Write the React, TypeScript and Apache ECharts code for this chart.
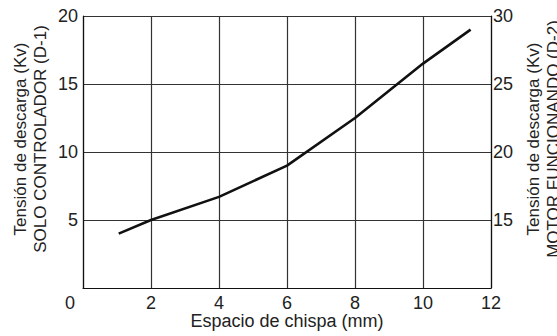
import React, { useEffect, useRef } from "react";
import * as echarts from "echarts";

const gapMm = [1.05, 2, 4, 6, 8, 10, 11.4];
const voltageKv = [4.0, 5.0, 6.7, 9.0, 12.5, 16.5, 19.0];
const xTicks = [0, 2, 4, 6, 8, 10, 12];
const leftTicks = [0, 5, 10, 15, 20];
const rightTicks = [10, 15, 20, 25, 30];
const xName = "Espacio de chispa (mm)";
const leftName = "Tensión de descarga (Kv)\nSOLO CONTROLADOR (D-1)";
const rightName = "Tensión de descarga (Kv)\nMOTOR FUNCIONANDO (D-2)";

const FONT = "Liberation Sans, Arial, sans-serif";
const TXT = "#222";

export default function App() {
  const ref = useRef<HTMLDivElement>(null);
  useEffect(() => {
    if (!ref.current) return;
    const chart = echarts.init(ref.current, undefined, {
      renderer: "svg",
      width: 557,
      height: 336,
    });
    chart.setOption({
      animation: false,
      backgroundColor: "#fff",
      grid: { left: 83, right: 66, top: 16, bottom: 48, containLabel: false, outerBoundsMode: "none" },
      xAxis: {
        type: "value",
        min: xTicks[0],
        max: xTicks[xTicks.length - 1],
        interval: xTicks[1] - xTicks[0],
        name: xName,
        nameLocation: "middle",
        nameGap: 24,
        nameMoveOverlap: false,
        nameTextStyle: { fontFamily: FONT, fontSize: 18, color: TXT },
        axisLine: { show: true, lineStyle: { color: "#111", width: 1.2 } },
        axisTick: { show: false },
        splitLine: { show: true, lineStyle: { color: "#333", width: 1.2 } },
        axisLabel: {
          margin: 6,
          fontFamily: FONT,
          fontSize: 18,
          color: TXT,
          formatter: (v: number) => (v === 0 ? "{z|0}" : String(v)),
          rich: { z: { fontFamily: FONT, fontSize: 18, color: TXT, padding: [0, 26, 0, 0] } },
        },
      },
      yAxis: [
        {
          type: "value",
          position: "left",
          min: leftTicks[0],
          max: leftTicks[leftTicks.length - 1],
          interval: leftTicks[1] - leftTicks[0],
          name: leftName,
          nameLocation: "middle",
          nameRotate: 90,
          nameGap: 33,
          nameMoveOverlap: false,
          nameTextStyle: {
            fontFamily: FONT,
            fontSize: 17,
            lineHeight: 20,
            color: TXT,
            align: "center",
            padding: [0, 0, 0, 26],
          },
          axisLine: { show: true, lineStyle: { color: "#111", width: 1.2 } },
          axisTick: { show: false },
          splitLine: { show: true, lineStyle: { color: "#333", width: 1.2 } },
          axisLabel: {
            margin: 5,
            showMinLabel: false,
            fontFamily: FONT,
            fontSize: 18,
            color: TXT,
          },
        },
        {
          type: "value",
          position: "right",
          min: rightTicks[0],
          max: rightTicks[rightTicks.length - 1],
          interval: rightTicks[1] - rightTicks[0],
          name: rightName,
          nameLocation: "middle",
          nameRotate: 90,
          nameGap: 32,
          nameMoveOverlap: false,
          nameTextStyle: {
            fontFamily: FONT,
            fontSize: 17,
            lineHeight: 20,
            color: TXT,
            align: "center",
            padding: [0, 0, 0, 26],
          },
          axisLine: { show: true, lineStyle: { color: "#111", width: 1.2 } },
          axisTick: { show: false },
          splitLine: { show: false },
          axisLabel: {
            margin: 2,
            showMinLabel: false,
            fontFamily: FONT,
            fontSize: 18,
            color: TXT,
          },
        },
      ],
      series: [
        {
          type: "line",
          yAxisIndex: 0,
          data: gapMm.map((x, i) => [x, voltageKv[i]]),
          showSymbol: false,
          lineStyle: { color: "#111", width: 2.6 },
          silent: true,
        },
      ],
    });
    return () => chart.dispose();
  }, []);
  return (
    <div
      ref={ref}
      style={{ position: "fixed", left: 0, top: 0, width: 557, height: 336 }}
    />
  );
}
